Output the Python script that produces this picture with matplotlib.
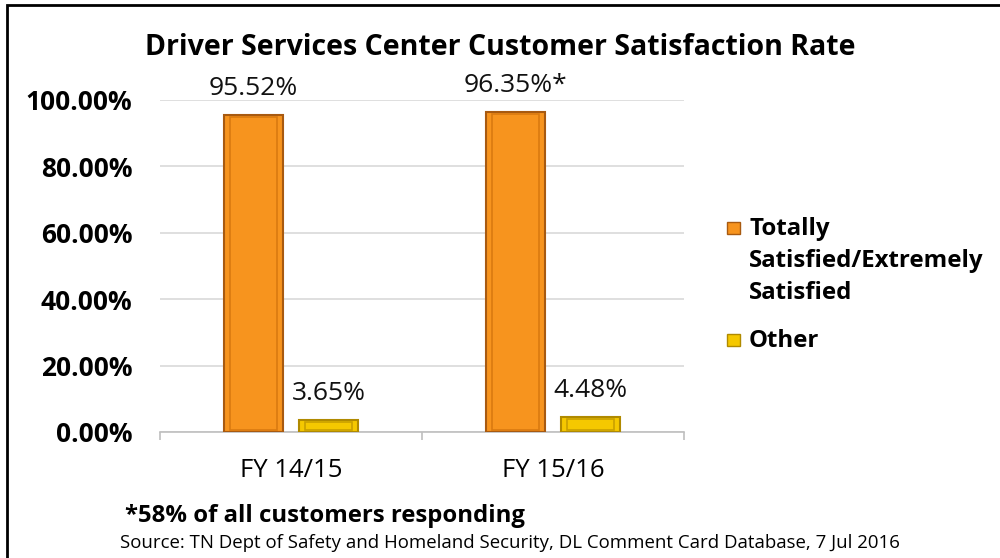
import matplotlib.pyplot as plt
import matplotlib.patches as mpatches
import numpy as np

plt.rcParams["font.family"] = ["Open Sans", "DejaVu Sans"]

categories = ["FY 14/15", "FY 15/16"]
series_names = ["Totally\nSatisfied/Extremely\nSatisfied", "Other"]
satisfied = [95.52, 96.35]
other = [3.65, 4.48]
value_labels = [["95.52%", "96.35%*"], ["3.65%", "4.48%"]]
yticks = [0, 20, 40, 60, 80, 100]
ytick_labels = ["0.00%", "20.00%", "40.00%", "60.00%", "80.00%", "100.00%"]

title = "Driver Services Center Customer Satisfaction Rate"
footnote = "*58% of all customers responding"
source = "Source: TN Dept of Safety and Homeland Security, DL Comment Card Database, 7 Jul 2016"

W, H = 1000, 558
fig = plt.figure(figsize=(W / 100, H / 100), dpi=100)
fig.patch.set_facecolor("white")


def px(x, y):
    # pixel position (from top-left) -> figure fraction
    return x / W, 1 - y / H


# outer frame (cut off on right and bottom like the screenshot)
frame = mpatches.Rectangle((7 / W, -0.1), 1.1, 1 - 5 / H + 0.1,
                           transform=fig.transFigure, fill=False,
                           edgecolor="black", linewidth=2)
fig.patches.append(frame)

ax = fig.add_axes([160 / W, 1 - 432 / H, 524 / W, 332 / H])

x = np.arange(len(categories))
bw = 0.225
gap = 0.061
off = (bw + gap) / 2

face = ["#F7941E", "#F5C800"]
edge = ["#A85A10", "#B08A00"]
inner = ["#D97A10", "#C9A000"]
for k, vals in enumerate([satisfied, other]):
    pos = x - off if k == 0 else x + off
    ax.bar(pos, vals, bw, color=face[k], edgecolor=edge[k], linewidth=1.5,
           zorder=3)
    # bevel look: inner outline
    ax.bar(pos, [v - 1.4 for v in vals], bw * 0.8, bottom=0.7, fill=False,
           edgecolor=inner[k], linewidth=1.2, zorder=4)
    for p, v, t in zip(pos, vals, value_labels[k]):
        ax.annotate(t, (p, v), xytext=(0, 20), textcoords="offset pixels",
                    ha="center", va="baseline", fontsize=19,
                    color="#111111", zorder=5)

ax.set_xlim(-0.5, 1.5)
ax.set_ylim(0, 100)
ax.set_yticks(yticks)
ax.set_yticklabels(ytick_labels, fontsize=19, fontweight="bold")
ax.set_xticks(x)
ax.set_xticklabels(categories, fontsize=18.5)
ax.set_xticks([-0.5, 0.5, 1.5], minor=True)
ax.tick_params(axis="both", which="major", length=0)
ax.tick_params(axis="x", which="minor", length=6, color="#BFBFBF", width=1.2)
ax.tick_params(axis="y", pad=20)
ax.tick_params(axis="x", which="major", pad=19)
ax.yaxis.grid(True, color="#D9D9D9", linewidth=1.2, zorder=0)
ax.set_axisbelow(True)
for s in ["left", "right", "top"]:
    ax.spines[s].set_visible(False)
ax.spines["bottom"].set_color("#BFBFBF")
ax.spines["bottom"].set_linewidth(1.2)

fig.text(*px(500, 55), title, ha="center", va="baseline",
         fontsize=20.5, fontweight="bold")

# legend drawn by hand so the marker sits on the first text line
leg_y = [235, 347]
line_step = 32
for k, name in enumerate(series_names):
    mx, my = px(727, leg_y[k] - 1)
    fig.patches.append(mpatches.Rectangle((mx, my), 13 / W, 12 / H,
                                          transform=fig.transFigure,
                                          facecolor=face[k], edgecolor=edge[k],
                                          linewidth=1))
    for i, line in enumerate(name.split("\n")):
        fig.text(*px(749, leg_y[k] + i * line_step), line, ha="left",
                 va="baseline", fontsize=17.3, fontweight="bold")

fig.text(*px(125, 522), footnote, ha="left", va="baseline",
         fontsize=17.2, fontweight="bold")
fig.text(*px(120, 548), source, ha="left", va="baseline", fontsize=13.4)

fig.savefig("out.png", dpi=100)
